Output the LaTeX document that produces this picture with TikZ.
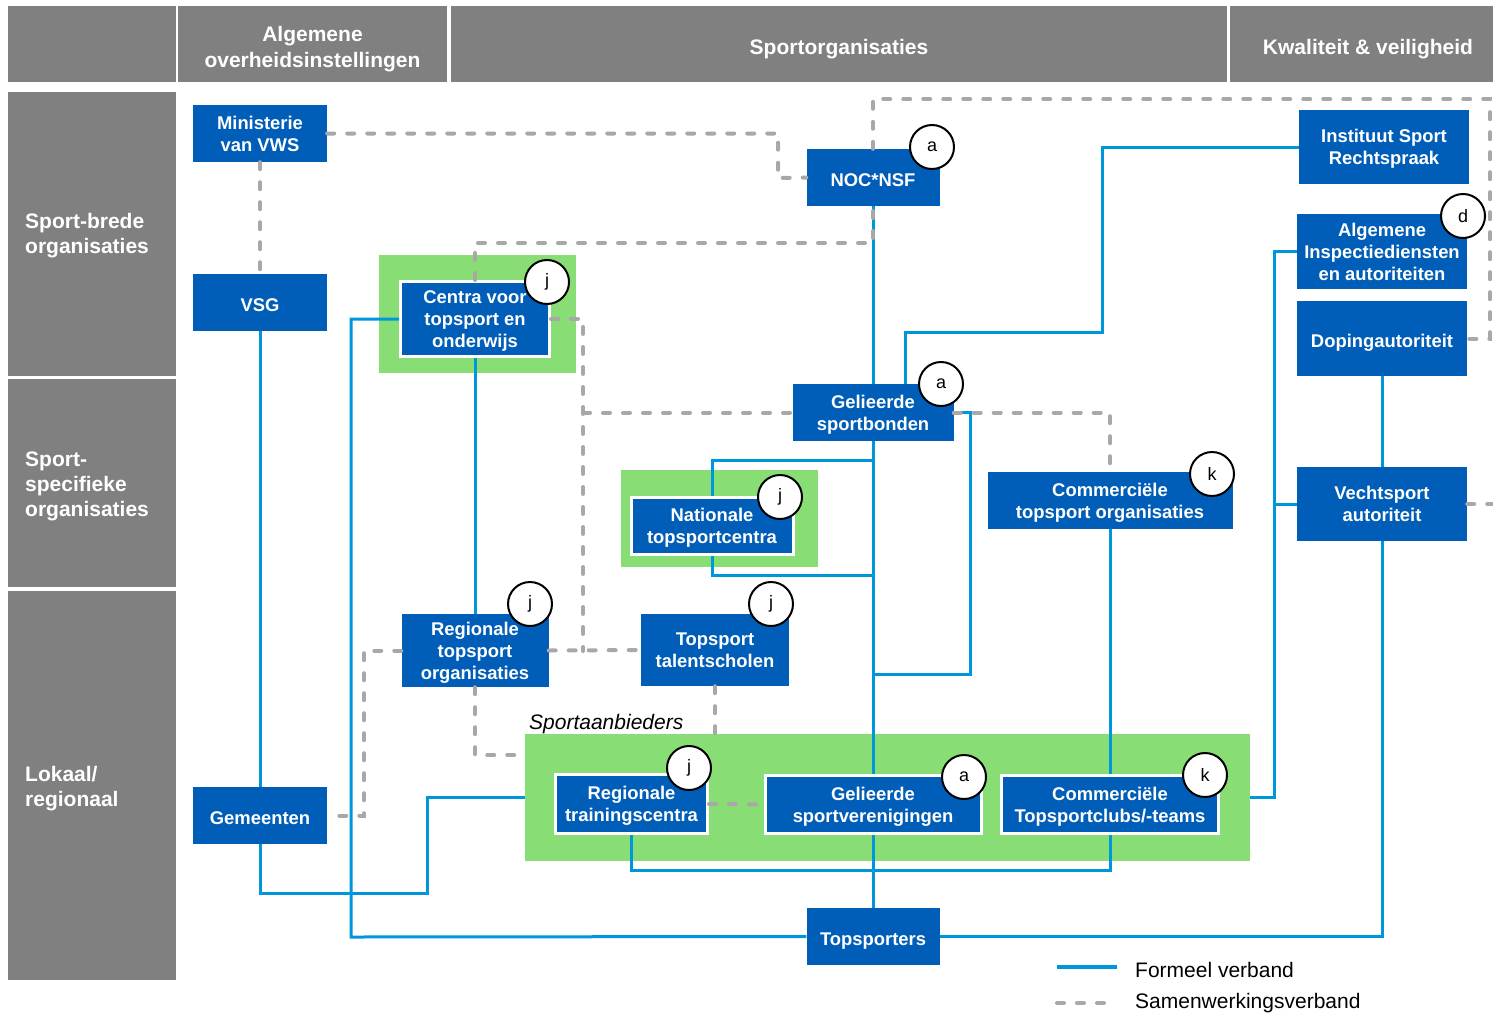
\documentclass[tikz,border=0pt]{standalone}
\usepackage{fontspec}
\setmainfont{Liberation Sans}
\usetikzlibrary{calc}
\definecolor{hdrgray}{RGB}{128,128,128}
\definecolor{orgblue}{RGB}{0,94,184}
\definecolor{linkblue}{RGB}{0,150,220}
\definecolor{coopgray}{RGB}{168,168,168}
\definecolor{grpgreen}{RGB}{136,222,116}

\begin{document}
\begin{tikzpicture}[x=1pt,y=-1pt,line join=miter,
  hdr/.style={fill=hdrgray,text=white,inner sep=0pt,align=center,text depth=0pt,
    font=\bfseries\fontsize{21}{26}\selectfont},
  rowlbl/.style={anchor=west,text=white,inner sep=0pt,align=left,text depth=0pt,
    font=\bfseries\fontsize{21}{25}\selectfont},
  org/.style={fill=orgblue,text=white,inner sep=0pt,align=center,text depth=0pt,
    font=\bfseries\fontsize{18.4}{22}\selectfont},
  orgsingle/.style={org,text height=17pt},
  orgframed/.style={org,draw=white,line width=3pt},
  grp/.style={fill=grpgreen,inner sep=0pt},
  tagcircle/.style={circle,draw=black,fill=white,line width=2pt,
    minimum size=44pt,inner sep=0pt,font=\fontsize{18}{18}\selectfont},
  formal/.style={draw=linkblue,line width=3pt},
  coop/.style={draw=coopgray,line width=4pt,line cap=round,dash pattern=on 7pt off 13pt}]
  \useasboundingbox (0,0) rectangle (1493,1012);

  % kolom- en rijkoppen
  \node[hdr,minimum width=168,minimum height=76] (hdrCorner) at (92,44) {};
  \node[hdr,minimum width=269,minimum height=76,text height=46pt] (hdrGov) at (312.5,44) {Algemene\\overheidsinstellingen};
  \node[hdr,minimum width=776,minimum height=76,text height=20pt] (hdrSport) at (839,44) {Sportorganisaties};
  \node[hdr,minimum width=276,minimum height=76,text height=20pt] (hdrQual) at (1368,44) {Kwaliteit \& veiligheid};
  \node[hdr,minimum width=168,minimum height=284] (rowBroad) at (92,234) {};
  \node[hdr,minimum width=168,minimum height=208] (rowSpec) at (92,483) {};
  \node[hdr,minimum width=168,minimum height=389] (rowLocal) at (92,785.5) {};
  \node[rowlbl] (lblBroad) at (25,233) {Sport-brede\\organisaties};
  \node[rowlbl] (lblSpec) at (25,484) {Sport-\\specifieke\\organisaties};
  \node[rowlbl] (lblLocal) at (25,786) {Lokaal/\\regionaal};

  % groene groepen
  \node[grp,minimum width=197,minimum height=118] (grpCentra) at (477.5,314) {};
  \node[grp,minimum width=197,minimum height=97] (grpNtc) at (719.5,518.5) {};
  \node[grp,minimum width=725,minimum height=127] (aanbieders) at (887.5,797.5) {};
  \node[anchor=base west,inner sep=0pt,font=\itshape\fontsize{21}{25}\selectfont] (lblAanb) at (529,729) {Sportaanbieders};

  % organisaties
  \node[org,minimum width=134,minimum height=57] (min) at (260,133.5) {Ministerie\\van VWS};
  \node[orgsingle,minimum width=134,minimum height=57] (vsg) at (260,302.5) {VSG};
  \node[orgsingle,minimum width=134,minimum height=57] (gem) at (260,815.5) {Gemeenten};
  \node[orgsingle,minimum width=133,minimum height=57] (noc) at (873,177.5) {NOC*NSF};
  \node[orgframed,minimum width=149,minimum height=75] (centra) at (475,319) {Centra voor\\topsport en\\onderwijs};
  \node[org,minimum width=161,minimum height=57] (bonden) at (873,412.5) {Gelieerde\\sportbonden};
  \node[orgframed,minimum width=162,minimum height=57] (ntc) at (712,526) {Nationale\\topsportcentra};
  \node[org,minimum width=245,minimum height=57] (cto) at (1110,500.5) {Commerciële\\topsport organisaties};
  \node[org,minimum width=147,minimum height=73] (rto) at (475,650.5) {Regionale\\topsport\\organisaties};
  \node[org,minimum width=148,minimum height=72] (tts) at (715,650) {Topsport\\talentscholen};
  \node[orgframed,minimum width=152,minimum height=59] (rtc) at (631.5,804) {Regionale\\trainingscentra};
  \node[orgframed,minimum width=216,minimum height=58] (verenig) at (873,804.5) {Gelieerde\\sportverenigingen};
  \node[orgframed,minimum width=217,minimum height=58] (ctc) at (1110,804.5) {Commerciële\\Topsportclubs/-teams};
  \node[orgsingle,minimum width=133,minimum height=57] (topsp) at (873,936.5) {Topsporters};
  \node[org,minimum width=170,minimum height=74] (isr) at (1384,147) {Instituut Sport\\Rechtspraak};
  \node[org,minimum width=170,minimum height=75] (aid) at (1382,251.5) {Algemene\\Inspectiediensten\\en autoriteiten};
  \node[orgsingle,minimum width=170,minimum height=75] (doping) at (1382,338.5) {Dopingautoriteit};
  \node[org,minimum width=170,minimum height=74] (vecht) at (1382,504) {Vechtsport\\autoriteit};

  % formeel verband
  \draw[formal] (vsg) -- (gem);
  \draw[formal] (gem.south) |- (427,893) |- (aanbieders.west);
  \draw[formal] (centra.west) -| (351,937) -- (topsp.west);
  \draw[formal] (centra.south) -- (rto.north);
  \draw[formal] (noc.south) -- (bonden.north);
  \draw[formal] (isr.west) -| (1102,332) -| ($(bonden.north)+(32,0)$);
  \draw[formal] (bonden.south) -- (verenig.north);
  \draw[formal] (verenig.south) -- (topsp.north);
  \draw[formal] (bonden.south |- 0,460) -| (ntc.north);
  \draw[formal] (ntc.south) |- (bonden.south |- 0,575);
  \draw[formal] (bonden.east) -| (970,674) -- (bonden.south |- 0,674);
  \draw[formal] (cto.south) -- (ctc.north);
  \draw[formal] (rtc.south) |- (ctc.south |- 0,870) -- (ctc.south);
  \draw[formal] (aid.west) -| (1274,797.5) -- (aanbieders.east);
  \draw[formal] (1274,504) -- (vecht.west);
  \draw[formal] (doping.south) -- (vecht.north);
  \draw[formal] (vecht.south) |- (topsp.east);

  % samenwerkingsverband
  \draw[coop] (min.east) -| (778,178) -- (noc.west);
  \draw[coop] (min.south) -- (vsg.north);
  \draw[coop] (centra.north) |- (873,243) -- (noc.south);
  \draw[coop] (noc.north) |- (1490,99) |- (doping.east);
  \draw[coop] (centra.east) -| (583,651);
  \draw[coop] (583,412.5) -- (bonden.west);
  \draw[coop] (rto.east) -- (tts.west);
  \draw[coop] (bonden.east) -| (cto.north);
  \draw[coop] (rto.west) -| (364,815.5) -- (gem.east);
  \draw[coop] (rto.south) |- (aanbieders.west |- 0,755);
  \draw[coop] (tts.south) -- (tts.south |- aanbieders.north);
  \draw[coop] (rtc.east) -- (verenig.west);
  \draw[coop] (vecht.east) -- (1500,504);

  % letters
  \node[tagcircle] (tagNoc) at (932,147) {a};
  \node[tagcircle] (tagCentra) at (547,282) {j};
  \node[tagcircle] (tagBonden) at (941,384) {a};
  \node[tagcircle] (tagNtc) at (780,497) {j};
  \node[tagcircle] (tagCto) at (1212,474) {k};
  \node[tagcircle] (tagRto) at (530,604) {j};
  \node[tagcircle] (tagTts) at (771,604) {j};
  \node[tagcircle] (tagRtc) at (689,768) {j};
  \node[tagcircle] (tagVerenig) at (964,777) {a};
  \node[tagcircle] (tagCtc) at (1205,775) {k};
  \node[tagcircle] (tagAid) at (1463,216) {d};

  % legenda
  \coordinate (lgFormal) at (1057,967);
  \coordinate (lgCoop) at (1057,1003);
  \draw[formal,line width=4pt] (lgFormal) -- ++(60,0);
  \draw[coop] (lgCoop) -- ++(60,0);
  \node[anchor=base west,inner sep=0pt,font=\fontsize{21}{25}\selectfont] (lgFormalTxt) at (1135,977) {Formeel verband};
  \node[anchor=base west,inner sep=0pt,font=\fontsize{21}{25}\selectfont] (lgCoopTxt) at (1135,1008) {Samenwerkingsverband};
\end{tikzpicture}
\end{document}
